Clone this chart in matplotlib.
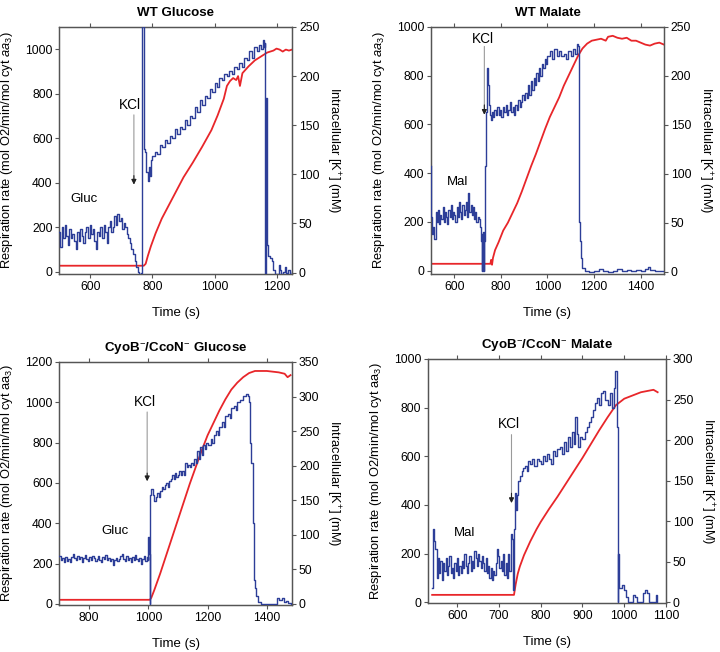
import matplotlib
matplotlib.use("Agg")
import matplotlib.pyplot as plt
import numpy as np


plt.rcParams["font.family"] = ["Liberation Sans", "DejaVu Sans"]
plt.rcParams["mathtext.fontset"] = "custom"
plt.rcParams["mathtext.rm"] = "Liberation Sans"
plt.rcParams["mathtext.it"] = "Liberation Sans:italic"

BLUE = "#2d3e98"
RED = "#e8262a"
SPINE = "#555555"


# =====================================================
# DATA  (time s, value)
# =====================================================

# --- WT Glucose ---
wt_glc_resp = [
    (500, 180), (503, 110), (507, 200), (512, 150), (517, 210), (522, 160), (527, 120),
    (532, 190), (537, 150), (542, 170), (547, 140), (552, 100), (557, 180), (562, 140),
    (567, 190), (572, 160), (577, 130), (582, 180), (587, 200), (592, 150), (597, 210),
    (602, 170), (607, 190), (612, 140), (617, 100), (622, 180), (627, 160), (632, 200),
    (637, 150), (642, 210), (647, 180), (652, 130), (657, 200), (662, 230), (667, 180),
    (672, 200), (677, 250), (682, 210), (687, 260), (692, 230), (697, 240), (702, 190),
    (707, 220), (712, 200), (717, 170), (722, 150), (727, 130), (732, 100), (737, 80),
    (742, 50), (747, 20), (752, 0), (757, -10), (762, -5), (765, 1110), (770, 1110),
    (772, 550), (776, 540), (780, 450), (784, 410), (788, 470), (792, 430), (796, 500),
    (800, 520), (808, 540), (816, 530), (824, 570), (832, 560), (840, 590), (848, 580),
    (856, 610), (864, 600), (872, 640), (880, 620), (888, 650), (896, 640), (904, 680),
    (912, 660), (920, 700), (928, 690), (936, 740), (944, 720), (952, 770), (960, 750),
    (968, 790), (976, 780), (984, 820), (992, 810), (1000, 850), (1008, 830),
    (1016, 870), (1024, 860), (1032, 890), (1040, 880), (1048, 900), (1056, 890),
    (1064, 920), (1072, 910), (1080, 940), (1088, 920), (1096, 960), (1104, 950),
    (1112, 990), (1120, 960), (1128, 1010), (1136, 990), (1144, 1020), (1150, 1000),
    (1156, 1040), (1160, 1010), (1163, 1030), (1164, -10), (1166, 780), (1168, 120),
    (1172, 70), (1178, 60), (1184, 50), (1190, 10), (1196, -10), (1202, -10),
    (1208, 30), (1212, 10), (1216, -10), (1222, 0), (1228, 20), (1232, -5),
    (1238, 10), (1244, -10), (1250, 0),
]
wt_glc_k = [
    (500, 7), (772, 7), (778, 9), (785, 17), (795, 27), (810, 40), (830, 55), (850, 67),
    (870, 79), (900, 97), (930, 112), (960, 128), (990, 145), (1010, 160), (1030, 177),
    (1040, 190), (1050, 195), (1060, 198), (1070, 196), (1076, 200), (1082, 190),
    (1090, 203), (1110, 210), (1130, 216), (1150, 220), (1170, 224), (1190, 226),
    (1200, 228), (1210, 227), (1220, 225), (1230, 227), (1240, 226), (1250, 227),
]

# --- WT Malate ---
wt_mal_resp = [
    (500, 430), (502, 220), (505, 150), (510, 180), (515, 130), (520, 240), (525, 200),
    (530, 250), (535, 190), (540, 230), (545, 210), (550, 260), (555, 200), (560, 240),
    (565, 220), (570, 190), (575, 250), (580, 220), (585, 270), (590, 210), (595, 240),
    (600, 230), (605, 200), (610, 260), (615, 220), (620, 280), (625, 240), (630, 210),
    (635, 270), (640, 230), (645, 250), (650, 280), (655, 220), (660, 320), (665, 240),
    (670, 270), (675, 230), (680, 260), (685, 210), (690, 240), (695, 200), (700, 220),
    (705, 210), (710, 180), (715, 120), (718, 0), (720, 150), (722, 0), (724, 160),
    (726, 0), (728, 120), (730, 170), (733, 430), (736, 650), (739, 820), (742, 830),
    (745, 760), (748, 680), (752, 640), (756, 620), (760, 650), (766, 630), (772, 660),
    (778, 640), (784, 670), (790, 640), (796, 660), (802, 630), (808, 670), (814, 650),
    (820, 680), (826, 640), (832, 660), (838, 690), (844, 650), (850, 670), (856, 640),
    (862, 680), (868, 660), (874, 700), (880, 670), (886, 690), (892, 720), (898, 700),
    (904, 730), (910, 710), (916, 760), (922, 720), (928, 780), (934, 740), (940, 790),
    (946, 760), (952, 810), (958, 780), (964, 830), (970, 800), (976, 850), (982, 830),
    (988, 870), (994, 850), (1000, 880), (1010, 900), (1020, 870), (1030, 910),
    (1040, 880), (1050, 900), (1060, 880), (1070, 890), (1080, 870), (1090, 900),
    (1100, 880), (1110, 910), (1120, 890), (1128, 930), (1132, 920), (1134, 200),
    (1138, 120), (1142, 50), (1150, 10), (1160, 0), (1180, -5), (1200, 0), (1220, 5),
    (1240, 0), (1260, -5), (1280, 0), (1300, 5), (1320, -3), (1340, 2), (1360, -2),
    (1380, 3), (1400, 0), (1420, 5), (1430, 15), (1440, 3), (1460, 0), (1480, -3),
    (1500, 0),
]
wt_mal_k = [
    (500, 8), (755, 8), (758, 12), (762, 7), (766, 14), (775, 22), (790, 30), (810, 42),
    (830, 50), (850, 60), (870, 70), (890, 82), (910, 95), (930, 108), (950, 120),
    (970, 133), (990, 146), (1010, 158), (1030, 168), (1050, 178), (1070, 190),
    (1090, 200), (1110, 210), (1130, 220), (1150, 228), (1170, 233), (1190, 236),
    (1210, 237), (1230, 238), (1250, 236), (1260, 240), (1280, 241), (1300, 239),
    (1320, 238), (1340, 239), (1360, 236), (1380, 236), (1400, 234), (1420, 232),
    (1440, 231), (1460, 233), (1480, 234), (1500, 232),
]

# --- CyoB-/CcoN- Glucose ---
mut_glc_resp = [
    (700, 240), (705, 220), (710, 230), (715, 210), (720, 235), (725, 215), (730, 225),
    (735, 210), (740, 235), (745, 250), (750, 230), (755, 220), (760, 240), (765, 225),
    (770, 235), (775, 210), (780, 230), (785, 245), (790, 225), (795, 215), (800, 235),
    (805, 220), (810, 240), (815, 230), (820, 215), (825, 225), (830, 240), (835, 220),
    (840, 210), (845, 235), (850, 225), (855, 245), (860, 220), (865, 230), (870, 215),
    (875, 225), (880, 195), (885, 220), (890, 230), (895, 215), (900, 225), (905, 240),
    (910, 250), (915, 225), (920, 215), (925, 240), (930, 220), (935, 230), (940, 210),
    (945, 235), (950, 220), (955, 245), (960, 225), (965, 215), (970, 230), (975, 200),
    (980, 225), (985, 240), (990, 215), (995, 235), (998, 220), (1000, 330),
    (1002, 250), (1004, 0), (1006, 540), (1010, 570), (1015, 540), (1020, 510),
    (1025, 530), (1030, 550), (1035, 530), (1040, 560), (1045, 580), (1050, 570),
    (1055, 590), (1060, 600), (1065, 580), (1070, 610), (1075, 620), (1080, 640),
    (1085, 620), (1090, 650), (1095, 630), (1100, 640), (1105, 660), (1110, 640),
    (1115, 660), (1120, 640), (1125, 700), (1130, 680), (1135, 690), (1140, 680),
    (1145, 700), (1150, 690), (1155, 720), (1160, 700), (1165, 760), (1170, 720),
    (1175, 780), (1180, 740), (1185, 790), (1190, 770), (1195, 800), (1200, 790),
    (1210, 820), (1215, 800), (1220, 840), (1230, 860), (1235, 840), (1240, 880),
    (1250, 900), (1255, 880), (1260, 930), (1270, 940), (1275, 920), (1280, 970),
    (1290, 980), (1295, 960), (1300, 1000), (1310, 1010), (1320, 1030), (1330, 1040),
    (1336, 1030), (1340, 1000), (1344, 800), (1348, 700), (1352, 400), (1356, 120),
    (1360, 80), (1365, 40), (1370, 10), (1380, 0), (1400, 0), (1420, 0), (1430, 0),
    (1434, 30), (1440, 20), (1450, 30), (1458, 10), (1465, 15), (1472, 5), (1480, 0),
]
mut_glc_k = [
    (700, 6), (1005, 6), (1010, 9), (1020, 20), (1040, 44), (1060, 70), (1080, 96),
    (1100, 122), (1120, 148), (1140, 174), (1160, 198), (1180, 222), (1200, 244),
    (1220, 262), (1240, 280), (1260, 296), (1280, 310), (1300, 320), (1320, 328),
    (1340, 334), (1360, 337), (1380, 337), (1400, 337), (1420, 336), (1440, 335),
    (1460, 333), (1470, 328), (1480, 331),
]

# --- CyoB-/CcoN- Malate ---
mut_mal_resp = [
    (540, 60), (541, 300), (544, 250), (548, 220), (551, 100), (554, 180), (557, 120),
    (560, 170), (563, 90), (566, 160), (569, 130), (572, 180), (575, 110), (578, 150),
    (581, 190), (584, 120), (587, 140), (590, 100), (593, 160), (596, 130), (599, 180),
    (602, 110), (605, 150), (608, 120), (611, 170), (614, 140), (617, 200), (620, 150),
    (623, 120), (626, 160), (629, 190), (632, 130), (635, 170), (638, 140), (641, 210),
    (644, 180), (647, 150), (650, 200), (653, 170), (656, 140), (659, 190), (662, 160),
    (665, 130), (668, 180), (671, 120), (674, 150), (677, 100), (680, 140), (683, 90),
    (686, 130), (689, 110), (692, 160), (695, 220), (698, 190), (701, 140), (704, 170),
    (707, 130), (710, 200), (713, 110), (716, 160), (719, 100), (722, 200), (725, 130),
    (728, 280), (731, 260), (734, 50), (736, 300), (738, 450), (740, 380), (743, 440),
    (746, 500), (750, 520), (754, 540), (758, 550), (762, 560), (766, 540), (770, 580),
    (775, 570), (780, 590), (785, 560), (790, 590), (795, 580), (800, 570), (805, 600),
    (810, 580), (815, 610), (820, 590), (825, 570), (830, 620), (835, 600), (840, 630),
    (845, 640), (850, 610), (855, 660), (860, 620), (865, 680), (870, 640), (875, 700),
    (880, 650), (883, 760), (886, 690), (890, 640), (895, 680), (900, 670), (905, 700),
    (910, 720), (915, 740), (920, 760), (925, 790), (930, 820), (935, 840), (940, 810),
    (945, 860), (950, 870), (955, 830), (960, 810), (965, 860), (970, 800), (975, 880),
    (979, 950), (982, 720), (984, 0), (986, 200), (988, 60), (995, 70), (1000, 50),
    (1005, 20), (1010, 0), (1015, 0), (1020, 30), (1025, 20), (1030, 0), (1040, 0),
    (1045, 40), (1050, 50), (1055, 40), (1060, 0), (1070, 0), (1075, 30), (1078, 0),
]
mut_mal_k = [
    (540, 9), (736, 9), (740, 22), (745, 35), (750, 44), (760, 58), (775, 75), (790, 90),
    (800, 99), (820, 115), (840, 130), (860, 146), (880, 162), (900, 178), (920, 195),
    (940, 212), (960, 228), (980, 243), (1000, 251), (1020, 255), (1040, 259),
    (1060, 261), (1070, 262), (1080, 259),
]


# =====================================================
# PANEL SETTINGS
# =====================================================

panels = [
    dict(title="WT Glucose", resp=wt_glc_resp, k=wt_glc_k,
         rect=[0.0826, 0.5798, 0.3230, 0.3788],
         xlim=(500, 1250), xticks=[600, 800, 1000, 1200],
         ylim=(-10, 1100), yticks=[0, 200, 400, 600, 800, 1000],
         ylim2=(-1.4, 250), yticks2=[0, 50, 100, 150, 200, 250],
         sub="Gluc", sub_xy=(578, 325),
         kcl_xy=(728, 750), arrow=(740, 705, 392), italic=True),
    dict(title="WT Malate", resp=wt_mal_resp, k=wt_mal_k,
         rect=[0.5986, 0.5798, 0.3236, 0.3788],
         xlim=(500, 1500), xticks=[600, 800, 1000, 1200, 1400],
         ylim=(-14, 1000), yticks=[0, 200, 400, 600, 800, 1000],
         ylim2=(-2.4, 250), yticks2=[0, 50, 100, 150, 200, 250],
         sub="Mal", sub_xy=(614, 362),
         kcl_xy=(722, 950), arrow=(729, 920, 640), italic=True),
    dict(title="CyoB$^{-}$/CcoN$^{-}$ Glucose", resp=mut_glc_resp, k=mut_glc_k,
         rect=[0.0826, 0.0721, 0.3230, 0.3727],
         xlim=(700, 1485), xticks=[800, 1000, 1200, 1400],
         ylim=(-5, 1200), yticks=[0, 200, 400, 600, 800, 1000, 1200],
         ylim2=(-1.5, 350), yticks2=[0, 50, 100, 150, 200, 250, 300, 350],
         sub="Gluc", sub_xy=(889, 361),
         kcl_xy=(987, 1000), arrow=(996, 952, 609), italic=False),
    dict(title="CyoB$^{-}$/CcoN$^{-}$ Malate", resp=mut_mal_resp, k=mut_mal_k,
         rect=[0.5944, 0.0752, 0.3306, 0.3742],
         xlim=(530, 1100), xticks=[600, 700, 800, 900, 1000, 1100],
         ylim=(-3, 1000), yticks=[0, 200, 400, 600, 800, 1000],
         ylim2=(-1, 300), yticks2=[0, 50, 100, 150, 200, 250, 300],
         sub="Mal", sub_xy=(618, 285),
         kcl_xy=(724, 734), arrow=(730, 689, 408), italic=False),
]


# =====================================================
# PLOT
# =====================================================

fig = plt.figure(figsize=(7.2, 6.52), dpi=100)

for p in panels:
    ax = fig.add_axes(p["rect"])
    ax2 = ax.twinx()

    t, v = zip(*p["resp"])
    ax.plot(t, v, color=BLUE, lw=1.0, drawstyle="steps-post", zorder=3)

    tk, vk = zip(*p["k"])
    ax2.plot(tk, vk, color=RED, lw=1.3, zorder=2)

    ax.set_xlim(*p["xlim"])
    ax.set_xticks(p["xticks"])
    ax.set_ylim(*p["ylim"])
    ax.set_yticks(p["yticks"])
    ax2.set_ylim(*p["ylim2"])
    ax2.set_yticks(p["yticks2"])

    # blue trace above the red one
    ax.set_zorder(ax2.get_zorder() + 1)
    ax.patch.set_visible(False)

    for a in (ax, ax2):
        for s in a.spines.values():
            s.set_color(SPINE)
            s.set_linewidth(0.9)
        a.tick_params(labelsize=8.7, length=3, width=0.8, color=SPINE, pad=2)
    ax.tick_params(axis="x", top=True, bottom=True, direction="out")

    if p["italic"]:
        ylab = "Respiration rate (mol O2/min/mol cyt $\\mathit{aa}_3$)"
    else:
        ylab = "Respiration rate (mol O2/min/mol cyt aa$_3$)"
    ax.set_ylabel(ylab, fontsize=9.3, labelpad=7)
    ax2.set_ylabel("Intracellular [K$^{+}$] (mM)", fontsize=9.3,
                   rotation=270, labelpad=16)
    ax.set_xlabel("Time (s)", fontsize=9.5, labelpad=10)
    ax.set_title(p["title"], fontsize=9.6, fontweight="bold", pad=8)

    ax.text(p["sub_xy"][0], p["sub_xy"][1], p["sub"], fontsize=9.5,
            ha="center", va="center")
    ax.text(p["kcl_xy"][0], p["kcl_xy"][1], "KCl", fontsize=9.8,
            ha="center", va="center")
    xa, y0, y1 = p["arrow"]
    ax.annotate("", xy=(xa, y1), xytext=(xa, y0),
                arrowprops=dict(arrowstyle="-|>", color="#9a9a9a", lw=0.8,
                                mutation_scale=7, shrinkA=0, shrinkB=0))
    ax.annotate("", xy=(xa, y1), xytext=(xa, y1 + 40),
                arrowprops=dict(arrowstyle="-|>", color="#222222", lw=0.8,
                                mutation_scale=7, shrinkA=0, shrinkB=0))

fig.savefig("out.png", dpi=100)
